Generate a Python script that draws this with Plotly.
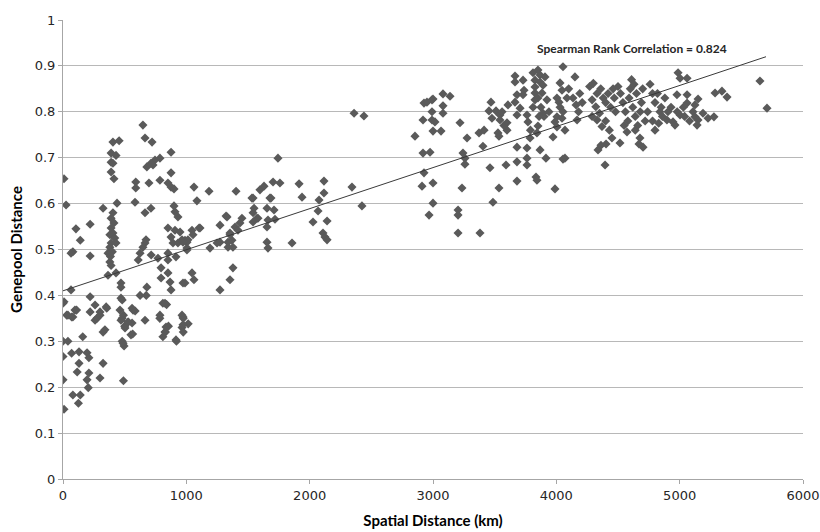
import plotly.graph_objects as go

# Spatial distance (km) and genepool distance
dist_km = [
    # 0-360 km
    8, 25, 105, 140, 220, 80, 65, 220, 65, 8, 220, 260, 97, 40, 80, 220, 260, 300, 350, 340,
    160, 0, 30, 70, 110, 275, 300, 355, 325, 0, 40, 70, 130, 195, 210, 0, 130, 325, 115, 210,
    300, 0, 195, 205, 80, 140, 125, 8, 325,
    # 360-600 km
    405, 455, 390, 430, 390, 405, 390, 413, 438, 405, 390, 413, 390, 405, 380, 420, 390, 430,
    365, 380, 385, 390, 365, 430, 380, 400, 470, 470, 470, 462, 470, 490, 480, 490, 480, 530,
    500, 560, 565, 480, 495, 560, 585, 568, 527, 503, 551, 487,
    # 580-1020 km
    648, 665, 722, 746, 786, 713, 680, 730, 590, 590, 697, 786, 584, 713, 665, 673, 665, 648,
    625, 610, 715, 770, 625, 680, 675, 665, 786, 785, 810, 840, 855, 830, 810, 827, 835, 916,
    920, 973, 965, 975, 965, 975, 1015, 973, 795, 795, 851, 868, 876, 827, 851, 851, 916, 973,
    # 850-1190 km
    876, 876, 851, 876, 900, 900, 908, 932, 851, 908, 876, 892, 932, 989, 965, 1005, 1005, 1046,
    1062, 989, 949, 1013, 1005, 973, 1046, 1111, 1062, 1086, 1184, 1103, 1054,
    # 1190-2150 km
    1192, 1273, 1273, 1322, 1403, 1354, 1370, 1338, 1378, 1354, 1273, 1395, 1419, 1451, 1435,
    1532, 1549, 1541, 1581, 1597, 1630, 1654, 1686, 1662, 1654, 1654, 1662, 1703, 1759, 1743,
    1711, 1719, 1857, 1914, 1938, 2116, 2116, 2076, 2068, 2027, 2141, 2108, 2124, 2141, 1541,
    1678, 1573, 1541, 1330, 1249, 1338, 1378, 1354,
    # 2340-2450 km
    2360, 2440, 2343, 2424,
    # 2850-3420 km
    2854, 2927, 2951, 2992, 3000, 3081, 3138, 2992, 3081, 3081, 2919, 2992, 3016, 3000, 3065,
    2919, 2976, 2927, 2911, 3000, 3000, 2968, 3219, 3276, 3243, 3259, 3259, 3235, 3203, 3203,
    3203, 3381, 3373, 3414, 3405,
    # 3450-3740 km
    3470, 3454, 3511, 3478, 3543, 3543, 3527, 3535, 3600, 3600, 3462, 3535, 3486, 3592, 3608,
    3665, 3665, 3681, 3665, 3730, 3738, 3730, 3681, 3706, 3681, 3681, 3681, 3560, 3575,
    # 3760-3990 km
    3762, 3770, 3787, 3762, 3762, 3762, 3835, 3843, 3811, 3851, 3868, 3827, 3868, 3827, 3892,
    3827, 3884, 3827, 3924, 3908, 3811, 3892, 3851, 3843, 3868, 3916, 3989, 3851, 3875, 3900,
    3940, 3860, 3790,
    # 3970-4210 km
    4005, 4030, 4046, 4054, 4022, 4005, 4046, 3989, 3973, 4005, 4070, 4086, 4151, 4135, 4160,
    4054, 4070, 4168, 4030, 4054, 4190, 4210, 4180, 4100,
    # 4270-4480 km
    4270, 4300, 4330, 4360, 4290, 4320, 4380, 4400, 4350, 4290, 4330, 4370, 4400, 4420, 4440,
    4338, 4362, 4403, 4395, 4451, 4430, 4460, 4470, 4480,
    # 4500-4740 km
    4516, 4573, 4500, 4520, 4540, 4560, 4580, 4600, 4610, 4630, 4650, 4620, 4640, 4660, 4680,
    4703, 4678, 4690, 4700, 4720, 4740, 4550, 4590, 4640, 4670,
    # 4760-5010 km
    4760, 4780, 4800, 4820, 4840, 4860, 4780, 4800, 4830, 4850, 4897, 4905, 4946, 4962, 4978,
    4987, 5003, 5003, 4980, 4930, 4880,
    # 5030-5390 km
    5060, 5060, 5060, 5149, 5124, 5287, 5343, 5384, 5108, 5124, 5149, 5141, 5189, 5230, 5278,
    5040, 5030, 5080,
    # 5650+ km
    5651, 5708,
]

genepool_dist = [
    0.654, 0.597, 0.545, 0.52, 0.555, 0.495, 0.492, 0.486, 0.412, 0.386, 0.397, 0.379, 0.368, 0.357, 0.353, 0.364, 0.346, 0.364, 0.375, 0.325,
    0.31, 0.383, 0.357, 0.353, 0.368, 0.35, 0.357, 0.372, 0.32, 0.30, 0.30, 0.274, 0.277, 0.275, 0.264, 0.267, 0.252, 0.252, 0.233, 0.231,
    0.22, 0.216, 0.216, 0.199, 0.183, 0.183, 0.165, 0.152, 0.59,
    0.734, 0.737, 0.71, 0.705, 0.69, 0.688, 0.669, 0.654, 0.601, 0.58, 0.568, 0.558, 0.547, 0.536, 0.532, 0.525, 0.514, 0.514,
    0.492, 0.473, 0.485, 0.465, 0.444, 0.449, 0.505, 0.495, 0.427, 0.418, 0.394, 0.368, 0.346, 0.214, 0.39, 0.357, 0.35, 0.342,
    0.333, 0.34, 0.316, 0.30, 0.29, 0.372, 0.366, 0.368, 0.342, 0.329, 0.314, 0.296,
    0.771, 0.743, 0.734, 0.695, 0.699, 0.688, 0.68, 0.684, 0.647, 0.634, 0.645, 0.651, 0.603, 0.59, 0.58, 0.521, 0.514, 0.505,
    0.492, 0.477, 0.488, 0.481, 0.40, 0.418, 0.40, 0.346, 0.357, 0.35, 0.383, 0.38, 0.333, 0.32, 0.31, 0.32, 0.331, 0.303,
    0.30, 0.353, 0.357, 0.35, 0.33, 0.32, 0.338, 0.336, 0.46, 0.438, 0.449, 0.429, 0.412, 0.383, 0.477, 0.492, 0.484, 0.427,
    0.712, 0.667, 0.645, 0.636, 0.632, 0.595, 0.582, 0.571, 0.547, 0.542, 0.527, 0.514, 0.514, 0.52, 0.521, 0.516, 0.503, 0.449,
    0.434, 0.427, 0.538, 0.521, 0.499, 0.516, 0.542, 0.547, 0.636, 0.606, 0.627, 0.547, 0.532,
    0.503, 0.516, 0.553, 0.573, 0.627, 0.536, 0.52, 0.505, 0.46, 0.434, 0.412, 0.549, 0.542, 0.568, 0.558,
    0.612, 0.59, 0.58, 0.568, 0.63, 0.638, 0.59, 0.612, 0.564, 0.549, 0.516, 0.503, 0.647, 0.645, 0.699,
    0.586, 0.566, 0.514, 0.643, 0.614, 0.649, 0.623, 0.608, 0.584, 0.56, 0.562, 0.536, 0.527, 0.521, 0.612,
    0.612, 0.568, 0.56, 0.571, 0.514, 0.516, 0.505, 0.532,
    0.797, 0.791, 0.636, 0.595,
    0.747, 0.819, 0.821, 0.826, 0.828, 0.839, 0.834, 0.80, 0.813, 0.797, 0.782, 0.782, 0.778, 0.758, 0.758,
    0.71, 0.712, 0.667, 0.638, 0.645, 0.601, 0.575, 0.776, 0.743, 0.71, 0.699, 0.686, 0.634, 0.586, 0.575,
    0.536, 0.536, 0.754, 0.76, 0.725,
    0.821, 0.802, 0.802, 0.786, 0.793, 0.782, 0.754, 0.747, 0.776, 0.76, 0.678, 0.634, 0.603, 0.684, 0.815,
    0.878, 0.865, 0.837, 0.821, 0.869, 0.847, 0.837, 0.793, 0.808, 0.723, 0.691, 0.649, 0.80, 0.77,
    0.793, 0.778, 0.743, 0.721, 0.699, 0.684, 0.658, 0.651, 0.885, 0.891, 0.88, 0.869, 0.865, 0.854, 0.858,
    0.841, 0.841, 0.826, 0.826, 0.876, 0.81, 0.797, 0.769, 0.754, 0.717, 0.699, 0.632, 0.83, 0.81, 0.79,
    0.80, 0.79, 0.76,
    0.83, 0.863, 0.847, 0.898, 0.821, 0.789, 0.786, 0.778, 0.745, 0.767, 0.699, 0.83, 0.876, 0.83, 0.815,
    0.697, 0.76, 0.782, 0.81, 0.80, 0.84, 0.82, 0.80, 0.85,
    0.855, 0.862, 0.84, 0.85, 0.826, 0.811, 0.83, 0.82, 0.797, 0.79, 0.782, 0.768, 0.78, 0.84, 0.81,
    0.717, 0.727, 0.73, 0.684, 0.743, 0.76, 0.85, 0.83, 0.80,
    0.732, 0.756, 0.855, 0.84, 0.82, 0.80, 0.78, 0.85, 0.87, 0.86, 0.84, 0.81, 0.79, 0.77, 0.80,
    0.723, 0.743, 0.82, 0.85, 0.78, 0.80, 0.77, 0.83, 0.76, 0.73,
    0.86, 0.84, 0.82, 0.84, 0.80, 0.79, 0.78, 0.76, 0.775, 0.81, 0.782, 0.80, 0.778, 0.771, 0.837,
    0.885, 0.873, 0.793, 0.80, 0.81, 0.83,
    0.873, 0.837, 0.819, 0.828, 0.815, 0.841, 0.845, 0.832, 0.80, 0.789, 0.782, 0.771, 0.797, 0.786, 0.789,
    0.79, 0.81, 0.78,
    0.867, 0.808,
]

# Trend line end points
trend_x = [0, 5700]
trend_y = [0.41, 0.92]

x_ticks = [0, 1000, 2000, 3000, 4000, 5000, 6000]
y_ticks = [0, 0.1, 0.2, 0.3, 0.4, 0.5, 0.6, 0.7, 0.8, 0.9, 1]
y_tick_labels = ["0", "0.1", "0.2", "0.3", "0.4", "0.5", "0.6", "0.7", "0.8", "0.9", "1"]

annotation_text = "Spearman Rank Correlation = 0.824"

fig = go.Figure()
fig.add_trace(go.Scatter(
    x=dist_km, y=genepool_dist, mode="markers",
    marker=dict(symbol="diamond", size=7, color="#5a5a5a", line=dict(width=0)),
    showlegend=False, hoverinfo="x+y",
))
fig.add_trace(go.Scatter(
    x=trend_x, y=trend_y, mode="lines",
    line=dict(color="#3a3a3a", width=1),
    showlegend=False, hoverinfo="skip",
))

fig.add_annotation(
    x=4613, y=0.939, xref="x", yref="y", showarrow=False,
    text="<b>" + annotation_text + "</b>",
    font=dict(family="Lato", size=12, color="#262626"),
)

tick_font = dict(family="DejaVu Sans", size=13, color="#262626")
title_font = dict(family="Lato", size=15, color="#000000")

fig.update_layout(
    width=820, height=532,
    margin=dict(l=63, r=17, t=20, b=53),
    paper_bgcolor="white", plot_bgcolor="white",
    xaxis=dict(
        range=[0, 6000], tickvals=x_ticks, ticktext=[str(v) for v in x_ticks],
        showgrid=False, zeroline=False, showline=True, linecolor="#a6a6a6", linewidth=1,
        ticks="outside", ticklen=4, tickcolor="#a6a6a6", tickfont=tick_font,
        title=dict(text="<b>Spatial Distance (km)</b>", font=title_font, standoff=13),
        automargin=False,
    ),
    yaxis=dict(
        range=[0, 1], tickvals=y_ticks, ticktext=y_tick_labels,
        showgrid=True, gridcolor="#b8b8b8", gridwidth=1,
        zeroline=False, showline=True, linecolor="#a6a6a6", linewidth=1,
        ticks="outside", ticklen=4, tickcolor="#a6a6a6", tickfont=tick_font,
        title=dict(text="<b>Genepool Distance</b>", font=title_font, standoff=8),
        automargin=False,
    ),
)

fig.write_html(
    "out.html",
    config={"displayModeBar": False},
    post_script="document.body.style.margin='0';document.body.style.padding='0';",
)
